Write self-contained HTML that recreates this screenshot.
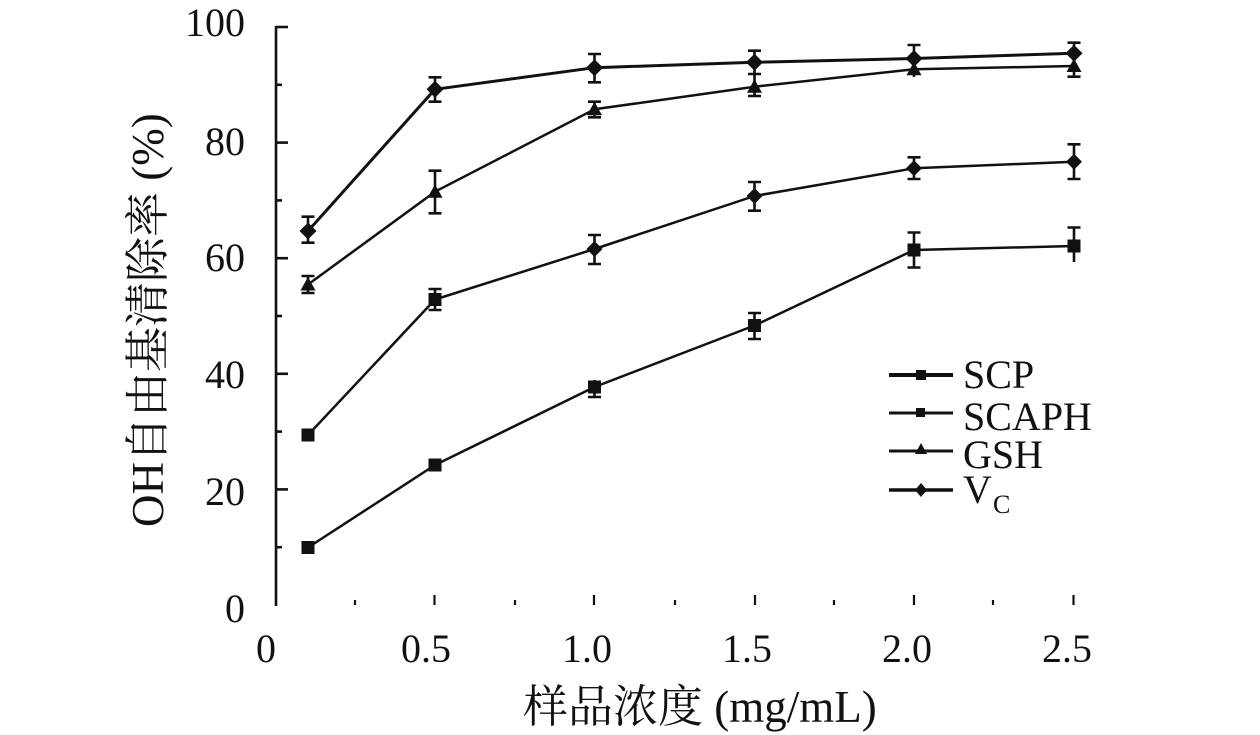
<!DOCTYPE html>
<html><head><meta charset="utf-8"><style>
html,body{margin:0;padding:0;background:#fff;}
svg{display:block;}
.t{font-family:"Liberation Serif","Noto Serif CJK SC",serif;fill:#111;}
</style></head><body>
<svg width="1260" height="735" viewBox="0 0 1260 735" xmlns="http://www.w3.org/2000/svg">
<defs>
<rect id="sq" x="-6.5" y="-6.5" width="13" height="13" fill="#111"/>
<rect id="sq2" x="-6.5" y="-6.5" width="13" height="13" fill="#111"/>
<polygon id="tri" points="0,-7.5 7.5,6 -7.5,6" fill="#111"/>
<polygon id="dia" points="0,-8.5 8.5,0 0,8.5 -8.5,0" fill="#111"/>
<polygon id="dial" points="0,-8 8,0 0,8 -8,0" fill="#111"/>
</defs>
<!-- axis -->
<g stroke="#111" stroke-width="2.6" fill="none">
<line x1="276" y1="26" x2="276" y2="606"/>
<line x1="276" y1="27" x2="288" y2="27"/>
<line x1="276" y1="142.6" x2="288" y2="142.6"/>
<line x1="276" y1="258.2" x2="288" y2="258.2"/>
<line x1="276" y1="373.8" x2="288" y2="373.8"/>
<line x1="276" y1="489.4" x2="288" y2="489.4"/>
<line x1="276" y1="84.8" x2="282" y2="84.8"/>
<line x1="276" y1="200.4" x2="282" y2="200.4"/>
<line x1="276" y1="316" x2="282" y2="316"/>
<line x1="276" y1="431.6" x2="282" y2="431.6"/>
<line x1="276" y1="547.2" x2="282" y2="547.2"/>
</g>
<g stroke="#111" stroke-width="2.2">
<line x1="434.5" y1="595" x2="434.5" y2="605"/>
<line x1="594" y1="595" x2="594" y2="605"/>
<line x1="755" y1="595" x2="755" y2="605"/>
<line x1="914" y1="595" x2="914" y2="605"/>
<line x1="1073.5" y1="595" x2="1073.5" y2="605"/>
<line x1="355" y1="600" x2="355" y2="605"/>
<line x1="515" y1="600" x2="515" y2="605"/>
<line x1="675" y1="600" x2="675" y2="605"/>
<line x1="834" y1="600" x2="834" y2="605"/>
<line x1="993" y1="600" x2="993" y2="605"/>
</g>
<g class="t" font-size="40" text-anchor="end">
<text x="245" y="36">100</text>
<text x="245" y="155">80</text>
<text x="245" y="271">60</text>
<text x="245" y="388">40</text>
<text x="245" y="505">20</text>
<text x="245" y="622">0</text>
</g>
<g class="t" font-size="40" text-anchor="middle">
<text x="266" y="662">0</text>
<text x="426" y="662">0.5</text>
<text x="587" y="662">1.0</text>
<text x="747" y="662">1.5</text>
<text x="907" y="662">2.0</text>
<text x="1067" y="662">2.5</text>
</g>
<text class="t" font-size="45" x="523" y="722">样品浓度 (mg/mL)</text>
<text class="t" font-size="45" transform="translate(163,527) rotate(-90)" x="0" y="0">OH自由基清除率 (%)</text>

<g stroke="#111" stroke-width="2.6" fill="none">
<path d="M594.5 380V397M588 397H601"/>
<path d="M754.5 313V339M748 313H761M748 339H761"/>
<path d="M914 232.5V267.5M907.5 232.5H920.5M907.5 267.5H920.5"/>
<path d="M1074 227.5V262M1067.5 227.5H1080.5"/>
<path d="M435 289V310M428.5 289H441.5M428.5 310H441.5"/>
<path d="M594.5 235V264M588 235H601M588 264H601"/>
<path d="M754.5 182V210.7M748 182H761M748 210.7H761"/>
<path d="M914 157.3V179M907.5 157.3H920.5M907.5 179H920.5"/>
<path d="M1074 144.3V179M1067.5 144.3H1080.5M1067.5 179H1080.5"/>
<path d="M308 276V293M301.5 276H314.5M301.5 293H314.5"/>
<path d="M435 170.7V213.3M428.5 170.7H441.5M428.5 213.3H441.5"/>
<path d="M594.5 101.7V117.3M588 101.7H601M588 117.3H601"/>
<path d="M754.5 74V96M748 74H761M748 96H761"/>
<path d="M914 62V77"/>
<path d="M1074 55V76.7M1067.5 76.7H1080.5"/>
<path d="M308 216.7V242.7M301.5 216.7H314.5M301.5 242.7H314.5"/>
<path d="M435 77.3V101.7M428.5 77.3H441.5M428.5 101.7H441.5"/>
<path d="M594.5 54V82.3M588 54H601M588 82.3H601"/>
<path d="M754.5 50.7V74M748 50.7H761"/>
<path d="M914 45V70M907.5 45H920.5"/>
<path d="M1074 42.7V64M1067.5 42.7H1080.5"/>
</g>

<g stroke="#111" stroke-width="2.5" fill="none" stroke-linejoin="round">
<polyline points="308,547.5 435,465 594.5,387 754.5,325.5 914,250 1074,246"/>
<polyline points="308,435 435,299.5 594.5,249 754.5,196 914,168.3 1074,161.7"/>
<polyline points="308,284.5 435,191.7 594.5,109.3 754.5,86.7 914,69.3 1074,66"/>
<polyline stroke-width="3" points="308,231 435,89.3 594.5,67.7 754.5,62.3 914,58.5 1074,53.3"/>
</g>

<g>
<use href="#sq" x="308" y="547.5"/><use href="#sq" x="435" y="465"/><use href="#sq" x="594.5" y="387"/>
<use href="#sq" x="754.5" y="325.5"/><use href="#sq" x="914" y="250"/><use href="#sq" x="1074" y="246"/>

<use href="#sq" x="308" y="435"/><use href="#sq2" x="435" y="299.5"/><use href="#dial" x="594.5" y="249"/>
<use href="#dial" x="754.5" y="196"/><use href="#dial" x="914" y="168.3"/><use href="#dial" x="1074" y="161.7"/>

<use href="#tri" x="308" y="284.5"/><use href="#tri" x="435" y="191.7"/><use href="#tri" x="594.5" y="109.3"/>
<use href="#tri" x="754.5" y="86.7"/><use href="#tri" x="914" y="69.3"/><use href="#tri" x="1074" y="66"/>

<use href="#dia" x="308" y="231"/><use href="#dia" x="435" y="89.3"/><use href="#dia" x="594.5" y="67.7"/>
<use href="#dia" x="754.5" y="62.3"/><use href="#dia" x="914" y="58.5"/><use href="#dia" x="1074" y="53.3"/>
</g>

<g stroke="#111" fill="none">
<line x1="889" y1="375" x2="953" y2="375" stroke-width="4"/>
<line x1="889" y1="413" x2="953" y2="413" stroke-width="3"/>
<line x1="889" y1="451" x2="953" y2="451" stroke-width="3"/>
<line x1="889" y1="490" x2="953" y2="490" stroke-width="3.5"/>
</g>
<g fill="#111">
<rect x="916" y="370" width="10" height="10"/>
<rect x="916" y="408" width="9" height="9"/>
<polygon points="921,443 927,454 915,454"/>
<polygon points="921,483 927,490 921,497 915,490"/>
</g>
<g class="t" font-size="40">
<text x="963" y="388">SCP</text>
<text x="963" y="430">SCAPH</text>
<text x="963" y="468">GSH</text>
<text x="963" y="503">V</text>
<text x="993" y="513" font-size="26">C</text>
</g>
</svg>
</body></html>
